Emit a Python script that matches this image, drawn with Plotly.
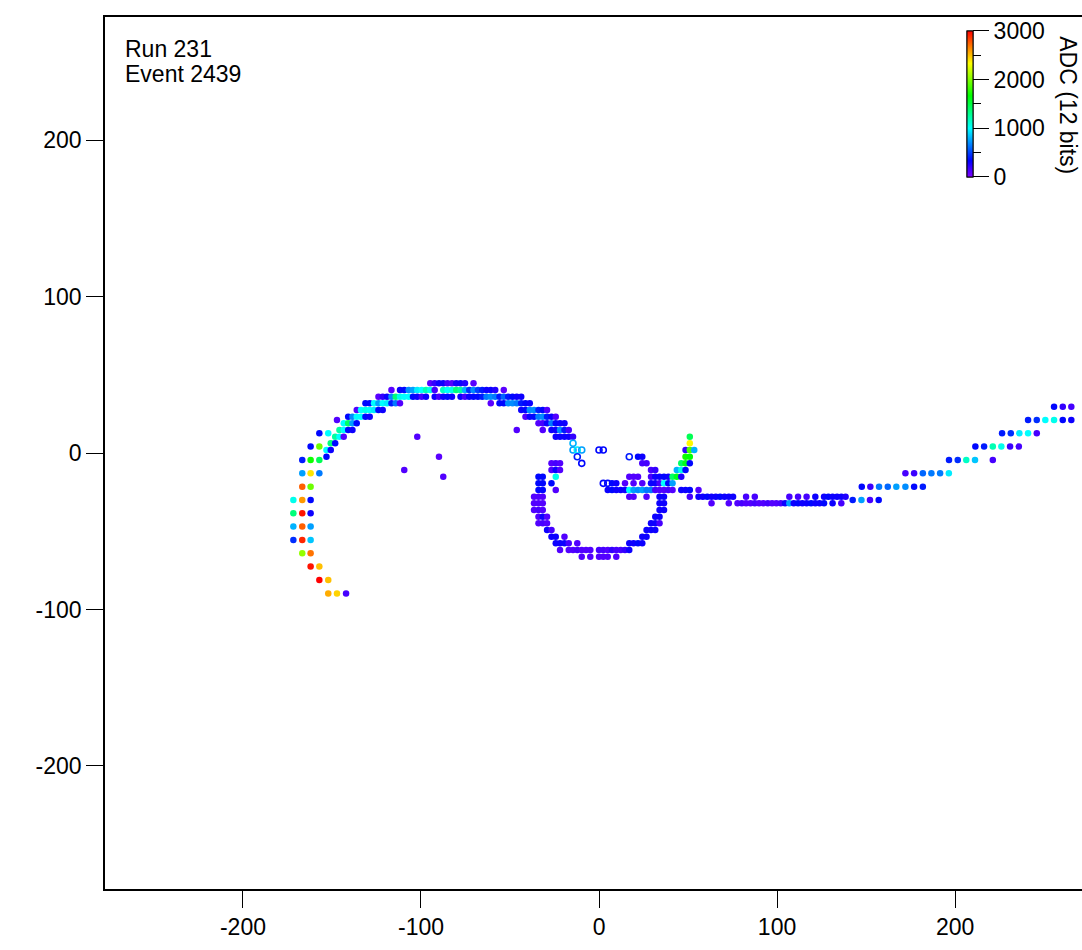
import plotly.graph_objects as go

FONT = "Liberation Sans, Arial, Helvetica, sans-serif"

# ---- hits on the small inner pads, one list per pad row (y in mm) ----
inner_rows_y = [44.5, 40.3, 36.0, 31.8, 27.5, 23.2, 19.0, 14.7, 10.4, 6.2, 1.9,
                -2.4, -6.6, -10.9, -15.1, -19.4, -23.6, -27.9, -32.1, -36.4,
                -40.7, -44.9, -49.2, -53.5, -57.7, -62.0, -66.3]
inner_rows_x = [
    [-94.8, -92.3, -89.9, -87.5, -85.1, -82.6, -80.2, -77.8, -75.3, -70.5],
    [-116.6, -111.8, -109.4, -106.9, -104.5, -102.1, -99.6, -97.2, -94.8, -92.3,
     -87.5, -85.1, -82.6, -80.2, -77.8, -75.3, -72.9, -70.5, -68.0, -65.6, -63.2,
     -60.8, -58.3, -53.5],
    [-123.9, -121.5, -119.1, -116.6, -114.2, -111.8, -109.4, -106.9, -104.5, -102.1,
     -99.6, -97.2, -92.3, -89.9, -87.5, -85.1, -82.6, -77.8, -75.3, -72.9, -70.5,
     -68.0, -65.6, -63.2, -60.8, -58.3, -55.9, -53.5, -51.0, -48.6, -46.2, -43.7],
    [-131.2, -128.8, -126.4, -123.9, -121.5, -119.1, -116.6, -114.2, -111.8, -60.8,
     -55.9, -53.5, -51.0, -48.6, -46.2, -43.7, -41.3, -38.9],
    [-136.1, -133.7, -131.2, -128.8, -126.4, -123.9, -121.5, -43.7, -41.3, -38.9,
     -36.5, -34.0, -31.6, -29.2],
    [-140.9, -138.5, -136.1, -133.7, -131.2, -128.8, -41.3, -38.9, -36.5, -34.0,
     -31.6, -29.2, -26.7, -24.3],
    [-143.4, -140.9, -138.5, -136.1, -34.0, -31.6, -29.2, -26.7, -24.3, -21.9, -19.4],
    [-145.8, -143.4, -140.9, -138.5, -46.2, -31.6, -26.7, -24.3, -21.9, -19.4, -17.0],
    [-148.2, -145.8, -143.4, -102.1, -24.3, -21.9, -19.4, -17.0, -14.6, 51.0],
    [-150.7, -148.2, 51.0],
    [-153.1, -150.7, 48.6, 51.0, 53.5],
    [-153.1, -89.9, 21.9, 24.3, 48.6, 51.0],
    [-26.7, -24.3, -21.9, 24.3, 26.7, 46.2, 48.6, 51.0],
    [-109.4, -26.7, -24.3, -21.9, 29.2, 31.6, 43.7, 46.2, 48.6],
    [-87.5, -34.0, -31.6, -24.3, 17.0, 19.4, 21.9, 29.2, 31.6, 34.0, 36.5, 38.9,
     41.3, 43.7, 46.2],
    [-34.0, -31.6, -26.7, 7.3, 9.7, 14.6, 19.4, 24.3, 29.2, 31.6, 34.0, 36.5, 38.9, 41.3],
    [-34.0, -31.6, -24.3, 4.9, 7.3, 9.7, 12.2, 14.6, 17.0, 19.4, 21.9, 24.3, 26.7,
     29.2, 31.6, 34.0, 36.5, 38.9, 41.3, 46.2, 48.6, 51.0, 55.9],
    [-36.5, -34.0, -31.6, 17.0, 19.4, 26.7, 34.0, 36.5, 51.0, 55.9, 58.3, 60.8, 63.2,
     65.6, 68.0, 70.5, 72.9, 75.3, 82.6, 87.5, 106.9, 111.8, 116.6, 121.5, 126.4,
     128.8, 131.2, 133.7, 136.1, 138.5],
    [-36.5, -34.0, -31.6, 34.0, 36.5, 63.2, 72.9, 77.8, 80.2, 82.6, 85.1, 87.5, 89.9,
     92.3, 94.8, 97.2, 99.6, 102.1, 104.5, 106.9, 109.4, 111.8, 114.2, 116.6, 119.1,
     121.5, 123.9, 126.4, 131.2, 136.1],
    [-36.5, -34.0, -31.6, 34.0, 36.5],
    [-34.0, -31.6, -29.2, 31.6, 34.0],
    [-34.0, -31.6, -29.2, 29.2, 31.6, 34.0],
    [-29.2, -26.7, 26.7, 29.2, 31.6],
    [-26.7, -24.3, -19.4, 24.3, 26.7],
    [-24.3, -21.9, -19.4, -17.0, -12.2, 17.0, 19.4, 21.9, 24.3],
    [-21.9, -17.0, -14.6, -12.2, -9.7, -7.3, -4.9, 0.0, 2.4, 4.9, 7.3, 9.7, 12.2,
     14.6, 17.0],
    [-9.7, -4.9, 0.0, 2.4, 4.9, 9.7],
]
inner_rows_adc = [
    [100, 200, 300, 300, 150, 120, 280, 300, 250, 100],
    [100, 300, 350, 700, 750, 950, 1000, 1200, 1050, 150, 1150, 1000, 1050, 1350,
     1250, 800, 450, 700, 500, 400, 300, 300, 250, 100],
    [100, 200, 300, 700, 1350, 1050, 1000, 1000, 350, 300, 150, 300, 300, 150, 300,
     350, 300, 300, 150, 300, 350, 350, 400, 650, 700, 650, 400, 600, 400, 350, 300, 300],
    [350, 350, 1000, 750, 1000, 950, 400, 650, 120, 100, 350, 350, 700, 700, 650,
     400, 350, 300],
    [120, 1000, 1050, 1000, 950, 350, 300, 300, 350, 700, 700, 400, 350, 120],
    [350, 700, 1000, 1000, 350, 300, 120, 300, 350, 650, 700, 400, 300, 120],
    [1000, 1400, 750, 350, 120, 150, 300, 650, 350, 300, 300],
    [1250, 1000, 350, 300, 120, 120, 300, 300, 700, 400, 150],
    [1250, 1000, 120, 120, 300, 300, 300, 300, 200, 1450],
    [1350, 350, 2350],
    [1000, 300, 200, 1850, 800],
    [350, 100, 350, 300, 1700, 1650],
    [120, 150, 120, 150, 150, 1400, 1600, 350],
    [120, 120, 300, 120, 150, 200, 800, 1050, 350],
    [120, 350, 350, 1050, 120, 120, 120, 150, 300, 300, 350, 300, 1400, 1600, 250],
    [350, 350, 350, 350, 300, 120, 120, 120, 300, 300, 150, 1000, 350, 750],
    [350, 350, 120, 300, 350, 300, 300, 300, 1000, 750, 700, 750, 650, 650, 150,
     120, 120, 150, 120, 300, 300, 350, 120],
    [120, 120, 120, 120, 120, 120, 300, 300, 150, 300, 300, 350, 300, 300, 350, 300,
     300, 300, 150, 150, 150, 150, 150, 300, 300, 350, 300, 300, 300, 250],
    [120, 120, 120, 300, 300, 120, 120, 120, 150, 120, 120, 150, 120, 120, 150, 120,
     120, 150, 300, 750, 300, 350, 300, 300, 350, 300, 300, 350, 300, 150],
    [120, 150, 120, 300, 300],
    [120, 300, 120, 300, 300],
    [120, 150, 120, 300, 300, 150],
    [300, 150, 300, 300, 300],
    [300, 300, 120, 300, 300],
    [300, 300, 300, 150, 120, 300, 300, 350, 300],
    [120, 120, 120, 150, 120, 120, 120, 150, 150, 120, 200, 150, 150, 200, 300],
    [120, 120, 120, 120, 120, 120],
]

# ---- hits on the large outer pads ----
outer_rows_y = [29.6, 21.1, 12.6, 4.1, -4.4, -13.0, -21.5, -30.0, -38.5, -47.0,
                -55.6, -64.1, -72.6, -81.1, -89.7]
outer_rows_x = [
    [255.6, 260.5, 265.3],
    [-147.2, 241.0, 245.9, 250.7, 255.6, 260.5, 265.3],
    [-157.1, -152.1, 226.4, 231.3, 236.1, 241.0, 245.9],
    [-162.0, -157.1, 211.4, 216.3, 221.2, 226.0, 230.9, 235.8],
    [-166.7, -162.0, -157.1, 196.6, 201.5, 206.3, 211.2, 221.2],
    [-166.7, -162.0, -157.1, 172.1, 177.0, 181.9, 186.7, 191.6, 196.5],
    [-166.7, -162.0, 147.6, 152.4, 157.3, 162.2, 167.0, 172.1, 177.0, 181.9],
    [-171.7, -166.7, -162.0, 142.5, 147.4, 152.2, 157.1],
    [-171.7, -166.7, -162.0],
    [-171.7, -166.7, -162.0],
    [-171.7, -166.7, -162.0],
    [-166.7, -162.0],
    [-162.0, -157.1],
    [-157.1, -152.1],
    [-152.1, -147.2, -142.1],
]
outer_rows_adc = [
    [350, 200, 150],
    [120, 400, 450, 1000, 1050, 350, 300],
    [350, 1000, 400, 450, 950, 1000, 150],
    [350, 1950, 350, 400, 1200, 1050, 180, 150],
    [400, 1700, 1450, 400, 450, 1150, 850, 150],
    [750, 2400, 650, 150, 180, 600, 650, 650, 950],
    [2750, 1950, 350, 180, 650, 600, 750, 700, 350, 400],
    [1050, 2600, 350, 400, 750, 150, 350],
    [1350, 2950, 300],
    [800, 2750, 750],
    [450, 2900, 850],
    [2050, 2700],
    [2950, 2500],
    [3000, 2500],
    [2550, 2450, 150],
]

# ---- hits drawn as open markers ----
open_x = [-14.6, -14.6, -12.2, -9.7, 0.0, 2.4, -12.2, 17.0, -9.7, 2.4, 4.9]
open_y = [6.2, 1.9, 1.9, 1.9, 1.9, 1.9, -2.4, -2.4, -6.6, -19.4, -19.4]
open_adc = [800, 750, 950, 750, 350, 350, 400, 400, 350, 350, 350]

# axis ticks
tick_vals = [-200, -100, 0, 100, 200]
tick_text = ["-200", "-100", "0", "100", "200"]
adc_major = [0, 1000, 2000, 3000]
adc_minor = [500, 1500, 2500]


def flatten(rows_y, rows_x, rows_adc):
    xs, ys, cs = [], [], []
    for y, xr, cr in zip(rows_y, rows_x, rows_adc):
        xs.extend(xr)
        ys.extend([y] * len(xr))
        cs.extend(cr)
    return xs, ys, cs


# violet -> red, hue decreasing linearly with ADC
rainbow = [
    [0.0, "rgb(128,0,255)"],
    [1 / 9, "rgb(0,0,255)"],
    [2 / 9, "rgb(0,128,255)"],
    [3 / 9, "rgb(0,255,255)"],
    [4 / 9, "rgb(0,255,128)"],
    [5 / 9, "rgb(0,255,0)"],
    [6 / 9, "rgb(128,255,0)"],
    [7 / 9, "rgb(255,255,0)"],
    [8 / 9, "rgb(255,128,0)"],
    [1.0, "rgb(255,0,0)"],
]

bar_common = dict(
    x=0.882, xanchor="left", xref="paper",
    y=0.984, yanchor="top", yref="paper",
    len=146, lenmode="pixels", thickness=6, thicknessmode="pixels",
    xpad=0, ypad=0, outlinewidth=1, outlinecolor="black",
    ticks="outside", tickcolor="black", tickwidth=1.3,
    tickfont=dict(family=FONT, size=23, color="black"),
)

ix, iy, ic = flatten(inner_rows_y, inner_rows_x, inner_rows_adc)
ox, oy, oc = flatten(outer_rows_y, outer_rows_x, outer_rows_adc)

fig = go.Figure()
fig.add_trace(go.Scatter(
    x=ox, y=oy, mode="markers", hoverinfo="skip",
    marker=dict(size=6.5, color=oc, colorscale=rainbow, cmin=0, cmax=3000,
                line=dict(width=0), showscale=False),
))
fig.add_trace(go.Scatter(
    x=ix, y=iy, mode="markers", hoverinfo="skip",
    marker=dict(size=6.5, color=ic, colorscale=rainbow, cmin=0, cmax=3000,
                line=dict(width=0), showscale=True,
                colorbar=dict(**bar_common, ticklen=16, tickvals=adc_major,
                              ticktext=[str(v) for v in adc_major])),
))
fig.add_trace(go.Scatter(
    x=open_x, y=open_y, mode="markers", hoverinfo="skip",
    marker=dict(size=6, symbol="circle-open", color=open_adc, colorscale=rainbow,
                cmin=0, cmax=3000, line=dict(width=1.6), showscale=True,
                colorbar=dict(**bar_common, ticklen=8, tickvals=adc_minor,
                              showticklabels=False)),
))

axis_common = dict(
    showline=True, linecolor="black", linewidth=1.5,
    ticks="outside", ticklen=17, tickwidth=1.3, tickcolor="black",
    tickvals=tick_vals, ticktext=tick_text,
    showgrid=False, zeroline=False,
    tickfont=dict(family=FONT, size=23, color="black"),
)

fig.update_layout(
    width=1082, height=950,
    margin=dict(l=105, r=0, t=17, b=61, autoexpand=False),
    paper_bgcolor="white", plot_bgcolor="white",
    showlegend=False,
    xaxis=dict(**axis_common, range=[-277.5, 271.3], mirror=True),
    yaxis=dict(**axis_common, range=[-278.6, 278.6], mirror=False,
               ticklabelstandoff=0),
    annotations=[
        dict(text="Run 231", x=0.0184, y=0.963, xref="paper", yref="paper",
             xanchor="left", yanchor="middle", showarrow=False,
             font=dict(family=FONT, size=23, color="black")),
        dict(text="Event 2439", x=0.0184, y=0.935, xref="paper", yref="paper",
             xanchor="left", yanchor="middle", showarrow=False,
             font=dict(family=FONT, size=23, color="black")),
        dict(text="ADC (12 bits)", x=0.9855, y=0.899, xref="paper", yref="paper",
             xanchor="center", yanchor="middle", textangle=90, showarrow=False,
             font=dict(family=FONT, size=23, color="black")),
    ],
)

fig.write_html("out.html")
